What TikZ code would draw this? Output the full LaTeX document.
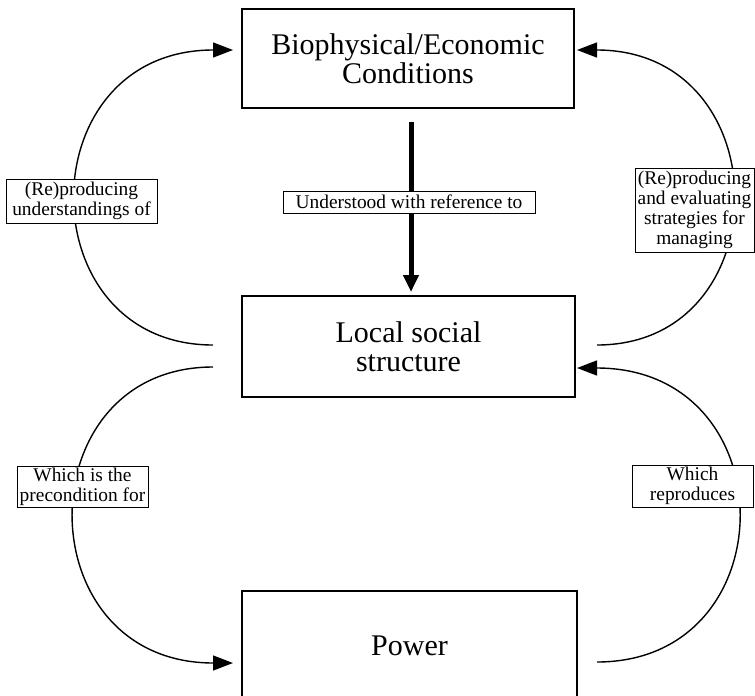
\documentclass[tikz,border=0pt]{standalone}
\usepackage{fontspec}
\setmainfont{Liberation Serif}
\usetikzlibrary{arrows.meta}
\begin{document}
\begin{tikzpicture}[x=1pt,y=-1pt,
  bigbox/.style={draw, line width=1.5pt, align=center, inner sep=0pt,
    font=\fontsize{30}{29}\selectfont},
  lab/.style={draw, fill=white, line width=1pt, align=center, inner sep=1pt,
    font=\fontsize{19.4}{20}\selectfont},
  arc/.style={line width=1.4pt, -{Triangle[length=20pt,width=15pt]}},
  thickarr/.style={line width=5pt, -{Triangle[length=17pt,width=15pt]}}]
\useasboundingbox (0,0) rectangle (755,696);
% boxes
\node[bigbox, minimum width=332pt, minimum height=99pt] (bio) at (408,58.5)
  {Biophysical/Economic\\Conditions};
\node[bigbox, minimum width=333pt, minimum height=101pt] (mid) at (408.5,346.5)
  {Local social\\structure};
\node[bigbox, minimum width=335pt, minimum height=109pt] (pow) at (409.5,645.5)
  {Power};
% connector end points
\coordinate (a1s) at (213,345); \coordinate (a1e) at (233,50);
\coordinate (a2s) at (597,345); \coordinate (a2e) at (577,50);
\coordinate (a3s) at (213,367); \coordinate (a3e) at (233,663);
\coordinate (a4s) at (597,662); \coordinate (a4e) at (577,368);
\coordinate (t1) at (411,122); \coordinate (t2) at (411,292);
% connectors
\draw[arc] (a1s) .. controls (27,345) and (27,50) .. (a1e);
\draw[arc] (a2s) .. controls (781,345) and (781,50) .. (a2e);
\draw[arc] (a3s) .. controls (25,367) and (25,663) .. (a3e);
\draw[arc] (a4s) .. controls (788,662) and (788,368) .. (a4e);
\draw[thickarr] (t1) -- (t2);
% labels
\node[lab, minimum width=252pt, minimum height=22pt] (und) at (409,202)
  {Understood with reference to};
\node[lab, minimum width=151pt, minimum height=44pt] (l1) at (81.5,201)
  {(Re)producing\\understandings of};
\node[lab, minimum width=119pt, minimum height=84pt] (l2) at (694.5,210)
  {(Re)producing\\and evaluating\\strategies for\\managing};
\node[lab, minimum width=131pt, minimum height=41pt] (l3) at (82.5,487)
  {Which is the\\precondition for};
\node[lab, minimum width=121pt, minimum height=42pt] (l4) at (692.5,486)
  {Which\\reproduces};
\end{tikzpicture}
\end{document}
